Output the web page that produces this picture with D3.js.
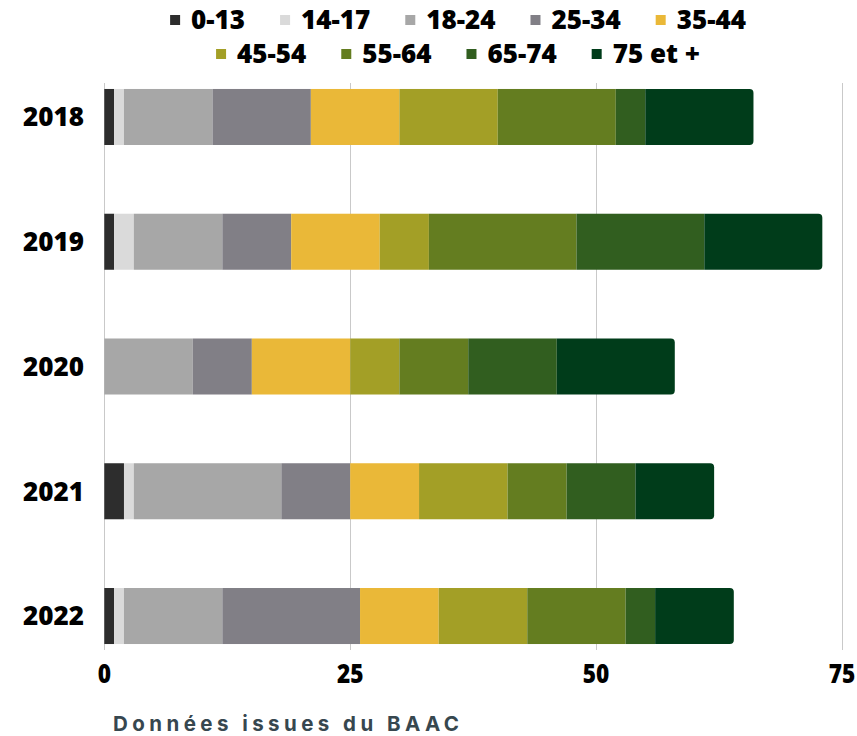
<!DOCTYPE html>
<html>
<head>
<meta charset="utf-8">
<script src="https://cdn.jsdelivr.net/npm/d3@7"></script>
<style>
  html, body { margin: 0; padding: 0; background: #ffffff; }
  svg { display: block; }
</style>
</head>
<body>
<svg id="chart" width="857" height="736"></svg>
<script>
const years = ["2018", "2019", "2020", "2021", "2022"];
const ageGroups = ["0-13", "14-17", "18-24", "25-34", "35-44", "45-54", "55-64", "65-74", "75 et +"];
const colors = ["#2d2d2d", "#dadada", "#a7a7a7", "#817f86", "#eab838", "#a39f26", "#647d20", "#315e1f", "#003c1a"];
const v0_13  = [1, 1, 0, 2, 1];
const v14_17 = [1, 2, 0, 1, 1];
const v18_24 = [9, 9, 9, 15, 10];
const v25_34 = [10, 7, 6, 7, 14];
const v35_44 = [9, 9, 10, 7, 8];
const v45_54 = [10, 5, 5, 9, 9];
const v55_64 = [12, 15, 7, 6, 10];
const v65_74 = [3, 13, 9, 7, 3];
const v75p   = [11, 12, 12, 8, 8];
const xTicks = [0, 25, 50, 75];
const sourceText = "Données issues du BAAC";

const series = [v0_13, v14_17, v18_24, v25_34, v35_44, v45_54, v55_64, v65_74, v75p];
const rows = years.map((y, i) => {
  const r = { year: y };
  ageGroups.forEach((g, k) => r[g] = series[k][i]);
  return r;
});

const svg = d3.select("#chart");
const x = d3.scaleLinear().domain([0, 75]).range([104.3, 842]);
const y = d3.scaleBand().domain(years).range([54.6, 678.4]).paddingInner(0.551).paddingOuter(0.2755);
const color = d3.scaleOrdinal().domain(ageGroups).range(colors);

// grid
svg.append("g").selectAll("line").data(xTicks).join("line")
  .attr("x1", d => Math.round(x(d)) + 0.5).attr("x2", d => Math.round(x(d)) + 0.5)
  .attr("y1", 83).attr("y2", 650)
  .attr("stroke", "#c9c9c9").attr("stroke-width", 1);

// bars
const stack = d3.stack().keys(ageGroups)(rows);
const lastIdx = {};
years.forEach((yr, i) => {
  let li = -1;
  ageGroups.forEach((g, k) => { if (series[k][i] > 0) li = k; });
  lastIdx[yr] = li;
});
const r = 4;
stack.forEach((layer, k) => {
  const g = svg.append("g").attr("fill", color(layer.key));
  layer.forEach(d => {
    const yr = d.data.year;
    if (d[1] - d[0] <= 0) return;
    const x0 = x(d[0]), x1 = x(d[1]), y0 = y(yr), h = y.bandwidth();
    if (lastIdx[yr] === k) {
      const p = d3.path();
      p.moveTo(x0, y0);
      p.lineTo(x1 - r, y0);
      p.arcTo(x1, y0, x1, y0 + r, r);
      p.lineTo(x1, y0 + h - r);
      p.arcTo(x1, y0 + h, x1 - r, y0 + h, r);
      p.lineTo(x0, y0 + h);
      p.closePath();
      g.append("path").attr("d", p.toString());
    } else {
      g.append("rect").attr("x", x0).attr("y", y0).attr("width", x1 - x0).attr("height", h);
    }
  });
});

// y labels
svg.append("g").selectAll("text").data(years).join("text")
  .attr("x", 84).attr("y", d => y(d) + y.bandwidth() / 2)
  .attr("dy", "0.36em").attr("text-anchor", "end")
  .attr("font-family", "'Open Sans', sans-serif").attr("font-weight", 800)
  .attr("font-size", 26).attr("fill", "#000")
  .text(d => d);

// x tick labels
svg.append("g").selectAll("text").data(xTicks).join("text")
  .attr("x", d => x(d)).attr("y", 683)
  .attr("text-anchor", "middle")
  .attr("font-family", "'Open Sans', sans-serif").attr("font-weight", 800)
  .attr("font-size", 27).attr("fill", "#000")
  .attr("transform", d => `translate(${x(d)},0) scale(0.84,1) translate(${-x(d)},0)`)
  .text(d => d);

// legend
const legendRows = [ageGroups.slice(0, 5), ageGroups.slice(5)];
const legendY = [20, 54];
const legend = svg.append("g");
legendRows.forEach((items, ri) => {
  const row = legend.append("g");
  let cx = 0;
  items.forEach((g, i) => {
    const it = row.append("g").attr("transform", `translate(${cx},0)`);
    it.append("rect").attr("x", 0).attr("y", legendY[ri] - 5).attr("width", 10).attr("height", 10).attr("fill", color(g));
    const t = it.append("text").attr("x", 21).attr("y", legendY[ri]).attr("dy", "0.36em")
      .attr("font-family", "'Open Sans', sans-serif").attr("font-weight", 800)
      .attr("font-size", 26).attr("fill", "#000").text(g);
    const w = t.node().getComputedTextLength();
    cx += 21 + w + 35;
  });
  const total = cx - 35;
  row.attr("transform", `translate(${458 - total / 2},0)`);
});

// source
svg.append("text").attr("x", 113).attr("y", 731)
  .attr("font-family", "Inter, 'Open Sans', sans-serif").attr("font-weight", 700)
  .attr("font-size", 20.5).attr("fill", "#37474f")
  .attr("textLength", 346).attr("lengthAdjust", "spacing")
  .text(sourceText);
</script>
</body>
</html>
